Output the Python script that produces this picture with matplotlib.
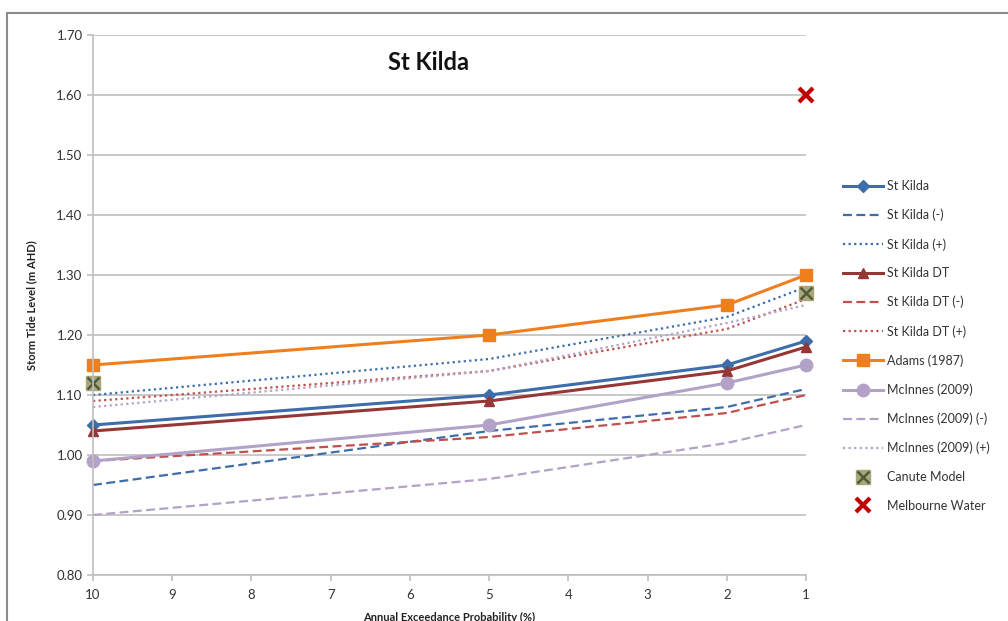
import matplotlib.pyplot as plt
import matplotlib.patches as patches
from matplotlib.legend_handler import HandlerTuple

plt.rcParams['font.family'] = ['Lato', 'DejaVu Sans']

# data
aep = [10, 5, 2, 1]
st_kilda = [1.05, 1.10, 1.15, 1.19]
st_kilda_lo = [0.95, 1.04, 1.08, 1.11]
st_kilda_hi = [1.10, 1.16, 1.23, 1.28]
st_kilda_dt = [1.04, 1.09, 1.14, 1.18]
st_kilda_dt_lo = [0.99, 1.03, 1.07, 1.10]
st_kilda_dt_hi = [1.09, 1.14, 1.21, 1.26]
adams = [1.15, 1.20, 1.25, 1.30]
mcinnes = [0.99, 1.05, 1.12, 1.15]
mcinnes_lo = [0.90, 0.96, 1.02, 1.05]
mcinnes_hi = [1.08, 1.14, 1.22, 1.25]
canute_x = [10, 1]
canute = [1.12, 1.27]
melb_x = [1]
melb = [1.60]

blue = '#3E6DAA'
red = '#953735'
red_lt = '#C0504D'
orange = '#EE7F1E'
purple = '#B3A2C7'
grey = '#BFBFBF'

fig = plt.figure(figsize=(10.08, 6.21), dpi=100)
ax = fig.add_axes([93/1008, 46/621, 713/1008, 540/621])

dash = (0, (4, 2))
dot = (0, (1, 1.5))

h = []
h.append(ax.plot(aep, st_kilda, color=blue, lw=2.2, marker='D', ms=6, label='St Kilda')[0])
h.append(ax.plot(aep, st_kilda_lo, color=blue, lw=1.6, ls=dash, label='St Kilda (-)')[0])
h.append(ax.plot(aep, st_kilda_hi, color=blue, lw=1.6, ls=dot, label='St Kilda (+)')[0])
h.append(ax.plot(aep, st_kilda_dt, color=red, lw=2.2, marker='^', ms=7, label='St Kilda DT')[0])
h.append(ax.plot(aep, st_kilda_dt_lo, color=red_lt, lw=1.6, ls=dash, label='St Kilda DT (-)')[0])
h.append(ax.plot(aep, st_kilda_dt_hi, color=red_lt, lw=1.6, ls=dot, label='St Kilda DT (+)')[0])
h.append(ax.plot(aep, adams, color=orange, lw=2.2, marker='s', ms=9, label='Adams (1987)')[0])
h.append(ax.plot(aep, mcinnes, color=purple, lw=2.2, marker='o', ms=9, label='McInnes (2009)')[0])
h.append(ax.plot(aep, mcinnes_lo, color=purple, lw=1.6, ls=dash, label='McInnes (2009) (-)')[0])
h.append(ax.plot(aep, mcinnes_hi, color=purple, lw=1.6, ls=dot, label='McInnes (2009) (+)')[0])

c1 = ax.plot(canute_x, canute, ls='none', marker='s', ms=10, color='#A9A77A')[0]
c2 = ax.plot(canute_x, canute, ls='none', marker='x', ms=8, mew=1.8, color='#4F5A3A')[0]
mw = ax.plot(melb_x, melb, ls='none', marker='x', ms=10, mew=3, color='#C00000')[0]

for line in ax.lines:
    line.set_clip_on(False)

ax.set_xlim(10, 1)
ax.set_ylim(0.80, 1.70)
ax.set_xticks(range(10, 0, -1))
ax.set_yticks([0.8 + 0.1*i for i in range(10)])
ax.yaxis.set_major_formatter(plt.FormatStrFormatter('%.2f'))
ax.grid(axis='y', color=grey, lw=1.2)
ax.set_axisbelow(True)
for s in ['top', 'right']:
    ax.spines[s].set_visible(False)
for s in ['left', 'bottom']:
    ax.spines[s].set_color(grey)
    ax.spines[s].set_linewidth(1.2)
ax.tick_params(axis='both', colors=grey, labelcolor='#333333', labelsize=9.5, length=4, width=1.2, direction='out')
ax.tick_params(axis='x', pad=6)

ax.set_ylabel('Storm Tide Level (m AHD)', fontsize=8, fontweight='bold', labelpad=14, color='#222222')
ax.set_xlabel('Annual Exceedance Probability (%)', fontsize=8, fontweight='bold', labelpad=8, color='#222222')
ax.text(0.47, 0.95, 'St Kilda', transform=ax.transAxes, ha='center', va='center',
        fontsize=17, fontweight='bold', color='#111111')

handles = h + [(c1, c2), mw]
labels = [x.get_label() for x in h] + ['Canute Model', 'Melbourne Water']
fig.legend(handles, labels, loc='upper left', bbox_to_anchor=(832/1008, 1 - 169/621),
           frameon=False, fontsize=9, labelspacing=1.33, handlelength=3.2, handletextpad=0.3,
           handler_map={tuple: HandlerTuple(ndivide=1)}, labelcolor='#333333')

border = patches.Rectangle((7/1008, -0.1), 1.2, 1 - 13/621 + 0.1, transform=fig.transFigure,
                           fill=False, edgecolor='#8C8C8C', lw=1.5)
fig.patches.append(border)

fig.savefig('out.png', dpi=100)
